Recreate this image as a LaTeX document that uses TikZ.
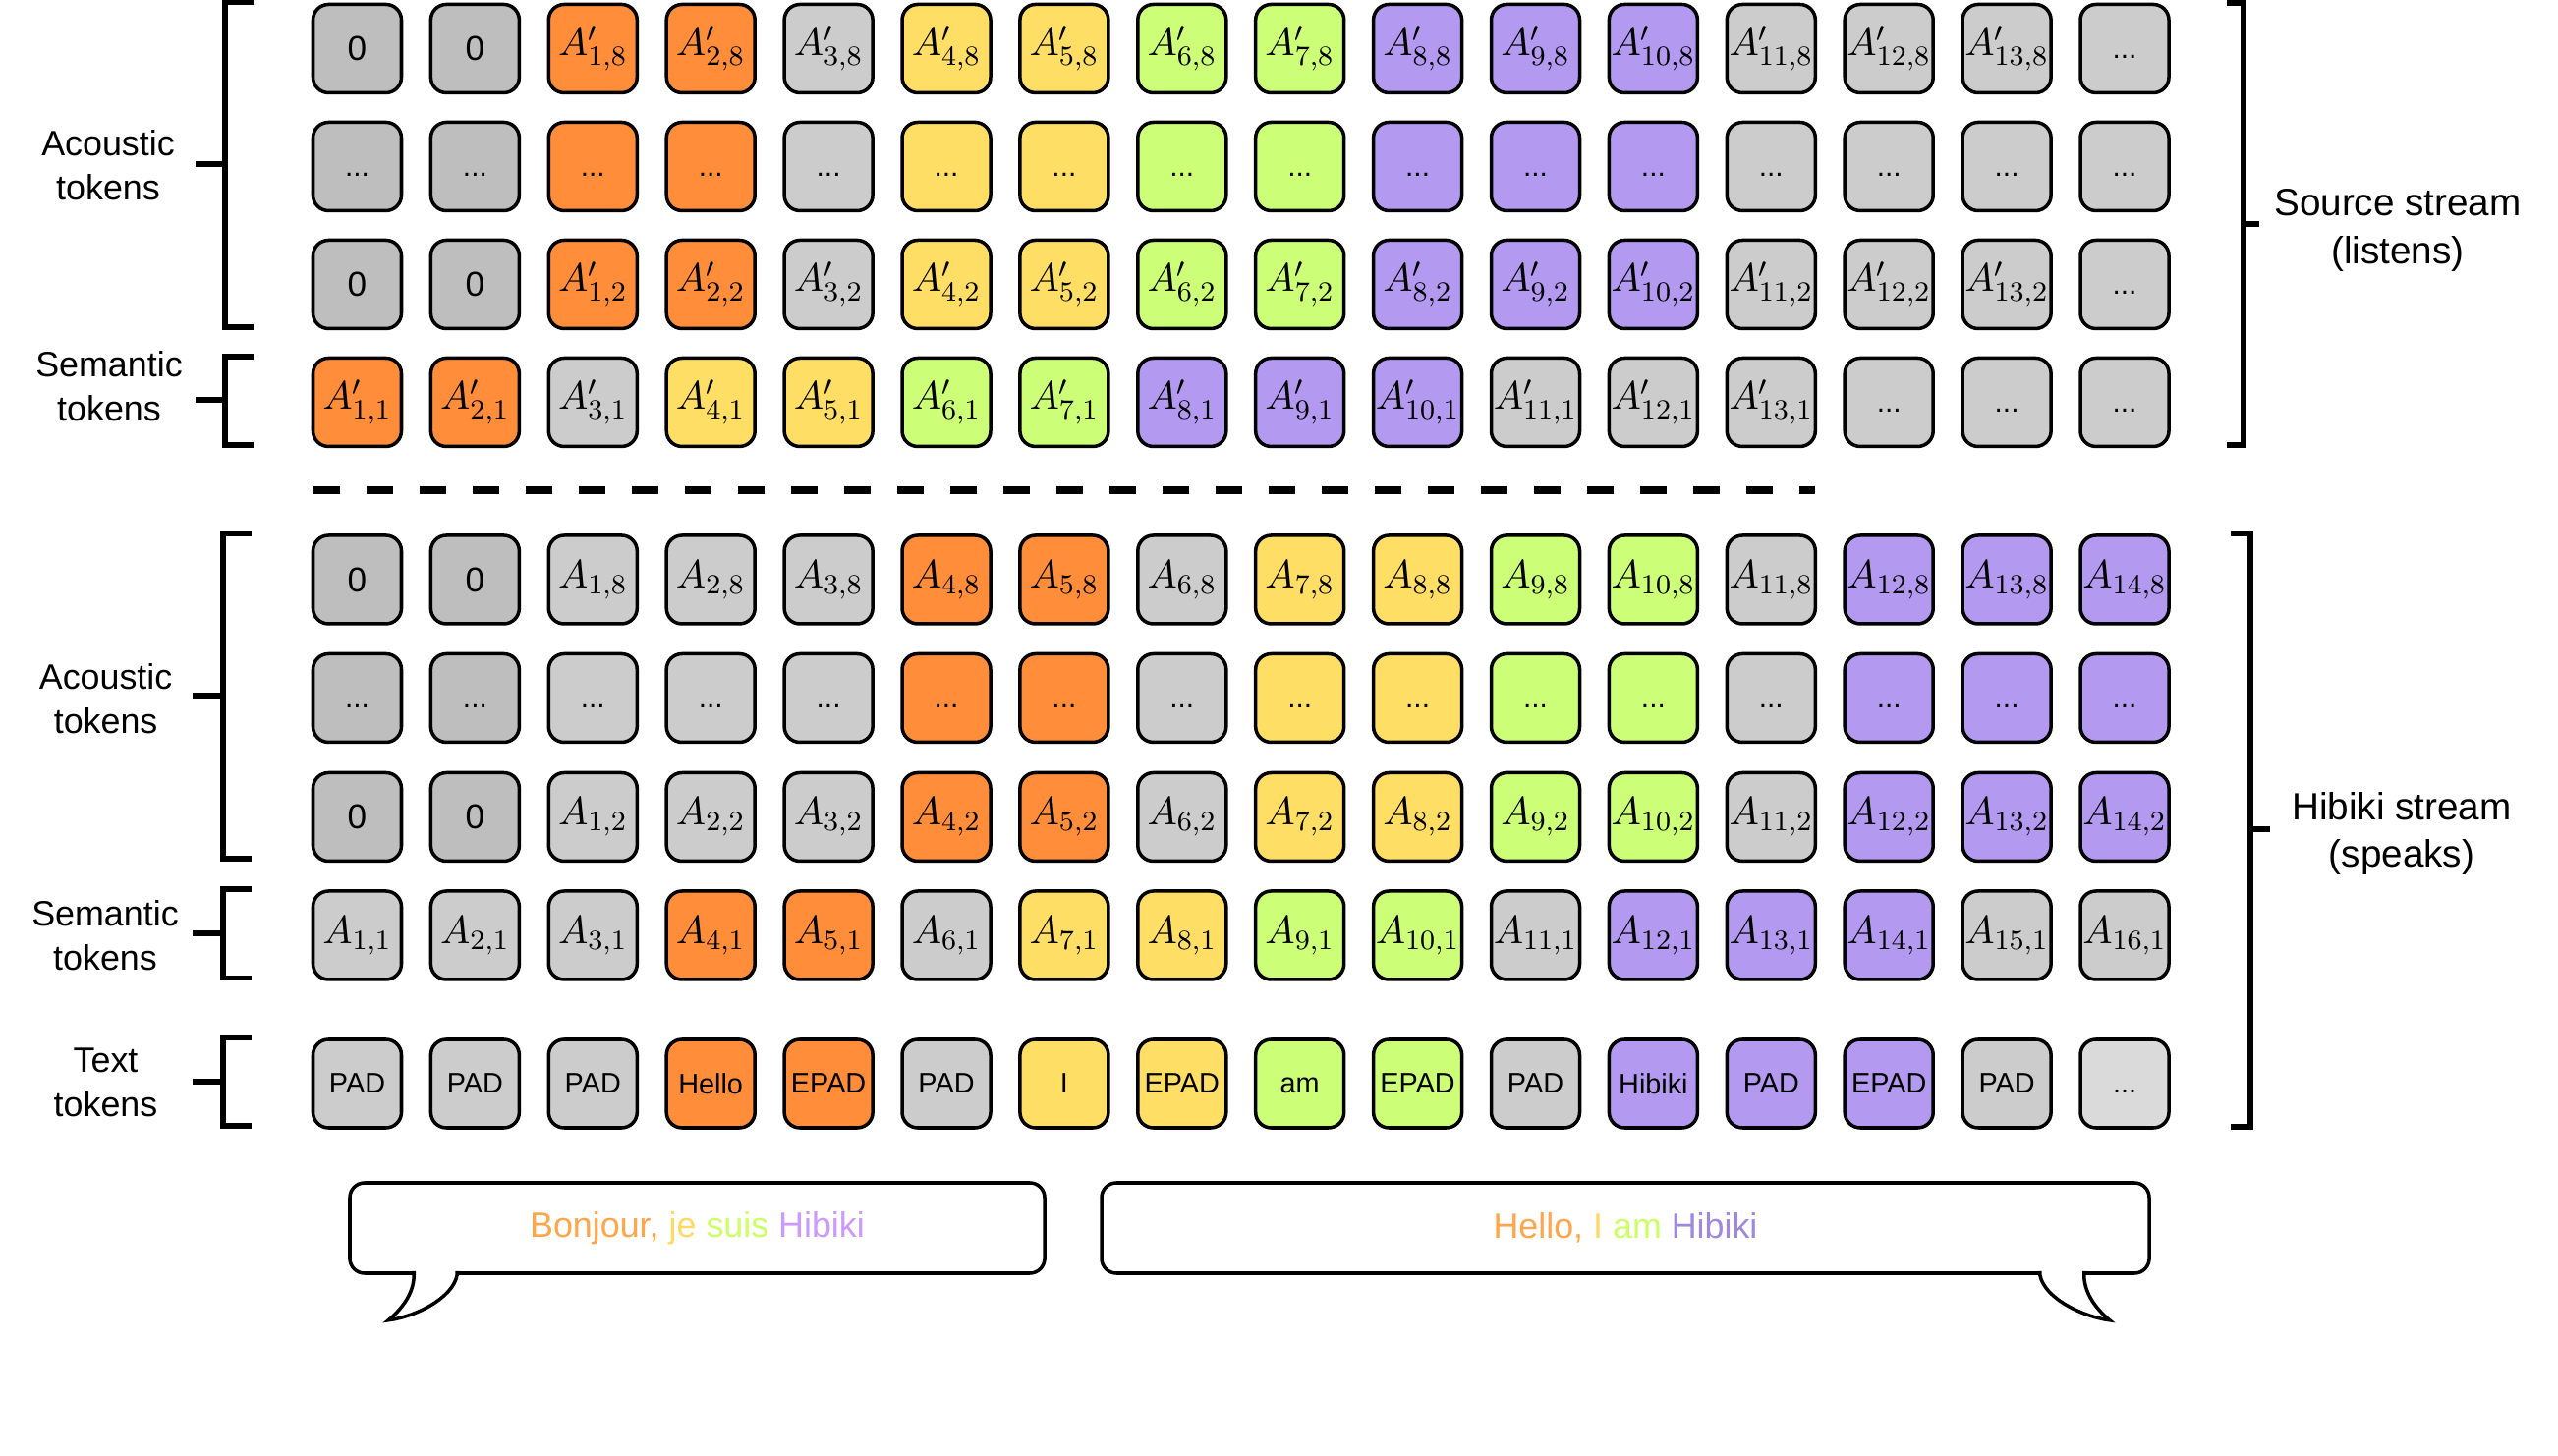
\documentclass[tikz,border=0pt]{standalone}
\usepackage{fix-cm}
\usepackage[no-math]{fontspec}
\newfontfamily\arialfont{Liberation Sans}
\usetikzlibrary{calc}

\definecolor{tokorange}{HTML}{FF8D3A}
\definecolor{tokyellow}{HTML}{FFDE66}
\definecolor{tokgreen}{HTML}{CCFF77}
\definecolor{tokpurple}{HTML}{B399F0}
\definecolor{tokgray}{HTML}{CCCCCC}
\definecolor{tokdark}{HTML}{BEBEBE}
\definecolor{toklight}{HTML}{DADADA}
\definecolor{sayorange}{HTML}{FFA54A}
\definecolor{sayyellow}{HTML}{FFD966}
\definecolor{saygreen}{HTML}{CCFF66}
\definecolor{saylilac}{HTML}{CC99FF}
\definecolor{saypurple}{HTML}{A088DE}

\newcommand{\tokword}[1]{{\arialfont\fontsize{8.2}{10}\selectfont\vphantom{P}#1}}
\newcommand{\tokzero}{{\arialfont\fontsize{10}{12}\selectfont 0}}
\newcommand{\threedots}{...}
\newcommand{\tokdots}{{\arialfont\fontsize{8.5}{10}\selectfont\vphantom{P}\threedots}}

\begin{document}
\begin{tikzpicture}[
	tok/.style={draw, line width=1pt, rounded corners=4.5pt, minimum size=0.9cm, inner sep=0pt, font=\fontsize{11.5}{13}\selectfont},
	lab/.style={align=center, font=\arialfont\fontsize{10.2}{12.8}\selectfont},
	side/.style={align=center, font=\arialfont\fontsize{11}{13.9}\selectfont},
	brk/.style={line width=1.7pt},
	bubble/.style={draw, line width=1pt, fill=white, rounded corners=0.15cm, inner sep=0pt, minimum height=0.92cm, font=\arialfont\fontsize{10.2}{12}\selectfont},
	tail/.style={draw, line width=1pt, fill=white}]

	\useasboundingbox (0,0) rectangle (26.03,-14.82);

	% source stream (listens)
	\foreach \col [count=\i] in {tokdark,tokdark,tokorange,tokorange,tokgray,tokyellow,tokyellow,tokgreen,tokgreen,tokpurple,tokpurple,tokpurple,tokgray,tokgray,tokgray,tokgray} {
		\pgfmathsetmacro\x{3.635+(\i-1)*1.199}
		\pgfmathtruncatemacro\kk{\i-2}
		\ifnum\i<3
			\node[tok, fill=\col] (s8-\i) at (\x,-0.495) {\tokzero};
			\node[tok, fill=\col] (s2-\i) at (\x,-2.895) {\tokzero};
		\else\ifnum\i=16
			\node[tok, fill=\col] (s8-\i) at (\x,-0.495) {\tokdots};
			\node[tok, fill=\col] (s2-\i) at (\x,-2.895) {\tokdots};
		\else
			\node[tok, fill=\col] (s8-\i) at (\x,-0.495) {$A'_{\kk,8}$};
			\node[tok, fill=\col] (s2-\i) at (\x,-2.895) {$A'_{\kk,2}$};
		\fi\fi
		\node[tok, fill=\col] (sd-\i) at (\x,-1.695) {\tokdots};
	}
	\foreach \col [count=\i] in {tokorange,tokorange,tokgray,tokyellow,tokyellow,tokgreen,tokgreen,tokpurple,tokpurple,tokpurple,tokgray,tokgray,tokgray,tokgray,tokgray,tokgray} {
		\pgfmathsetmacro\x{3.635+(\i-1)*1.199}
		\ifnum\i<14
			\node[tok, fill=\col] (s1-\i) at (\x,-4.095) {$A'_{\i,1}$};
		\else
			\node[tok, fill=\col] (s1-\i) at (\x,-4.095) {\tokdots};
		\fi
	}

	\draw[line width=0.08cm, dash pattern=on 0.27cm off 0.27cm] (3.185,-4.995) -- (18.47,-4.995);

	% hibiki stream (speaks)
	\foreach \col [count=\i] in {tokdark,tokdark,tokgray,tokgray,tokgray,tokorange,tokorange,tokgray,tokyellow,tokyellow,tokgreen,tokgreen,tokgray,tokpurple,tokpurple,tokpurple} {
		\pgfmathsetmacro\x{3.635+(\i-1)*1.199}
		\pgfmathtruncatemacro\kk{\i-2}
		\ifnum\i<3
			\node[tok, fill=\col] (h8-\i) at (\x,-5.90) {\tokzero};
			\node[tok, fill=\col] (h2-\i) at (\x,-8.315) {\tokzero};
		\else
			\node[tok, fill=\col] (h8-\i) at (\x,-5.90) {$A_{\kk,8}$};
			\node[tok, fill=\col] (h2-\i) at (\x,-8.315) {$A_{\kk,2}$};
		\fi
		\node[tok, fill=\col] (hd-\i) at (\x,-7.105) {\tokdots};
	}
	\foreach \col [count=\i] in {tokgray,tokgray,tokgray,tokorange,tokorange,tokgray,tokyellow,tokyellow,tokgreen,tokgreen,tokgray,tokpurple,tokpurple,tokpurple,tokgray,tokgray}
		\node[tok, fill=\col] (h1-\i) at ({3.635+(\i-1)*1.199},-9.52) {$A_{\i,1}$};
	\foreach \col/\w [count=\i] in {tokgray/PAD,tokgray/PAD,tokgray/PAD,tokorange/Hello,tokorange/EPAD,tokgray/PAD,tokyellow/I,tokyellow/EPAD,tokgreen/am,tokgreen/EPAD,tokgray/PAD,tokpurple/Hibiki,tokpurple/PAD,tokpurple/EPAD,tokgray/PAD,toklight/\threedots}
		\node[tok, fill=\col] (t-\i) at ({3.635+(\i-1)*1.199},-11.03) {\tokword{\w}};

	% left brackets
	\draw[brk] (2.58,-0.025) -- (2.29,-0.025) -- (2.29,-3.33) -- (2.58,-3.33);
	\draw[brk] (1.99,-1.67) -- (2.29,-1.67);
	\draw[brk] (2.58,-3.635) -- (2.29,-3.635) -- (2.29,-4.53) -- (2.58,-4.53);
	\draw[brk] (1.99,-4.07) -- (2.29,-4.07);
	\draw[brk] (2.56,-5.43) -- (2.27,-5.43) -- (2.27,-8.74) -- (2.56,-8.74);
	\draw[brk] (1.96,-7.08) -- (2.27,-7.08);
	\draw[brk] (2.56,-9.05) -- (2.27,-9.05) -- (2.27,-9.955) -- (2.56,-9.955);
	\draw[brk] (1.96,-9.50) -- (2.27,-9.50);
	\draw[brk] (2.56,-10.56) -- (2.27,-10.56) -- (2.27,-11.46) -- (2.56,-11.46);
	\draw[brk] (1.96,-11.01) -- (2.27,-11.01);

	\node[lab] (lab-sa) at (1.10,-1.68) {Acoustic\\tokens};
	\node[lab] (lab-ss) at (1.11,-3.935) {Semantic\\tokens};
	\node[lab] (lab-ha) at (1.076,-7.11) {Acoustic\\tokens};
	\node[lab] (lab-hs) at (1.07,-9.52) {Semantic\\tokens};
	\node[lab] (lab-ht) at (1.075,-11.02) {Text\\tokens};

	% right brackets
	\draw[brk] (22.66,-0.03) -- (22.83,-0.03) -- (22.83,-4.53) -- (22.66,-4.53);
	\draw[brk] (22.83,-2.28) -- (22.99,-2.28);
	\draw[brk] (22.70,-5.43) -- (22.90,-5.43) -- (22.90,-11.47) -- (22.70,-11.47);
	\draw[brk] (22.90,-8.44) -- (23.10,-8.44);

	\node[side] (lab-src) at (24.40,-2.345) {Source stream\\(listens)};
	\node[side] (lab-hib) at (24.44,-8.485) {Hibiki stream\\(speaks)};

	% speech bubbles
	\node[bubble, minimum width=7.07cm] (say-fr) at (7.095,-12.50)
		{{\color{sayorange}Bonjour,} {\color{sayyellow}je} {\color{saygreen}suis} {\color{saylilac}Hibiki}};
	\node[bubble, minimum width=10.66cm] (say-en) at (16.54,-12.50)
		{{\color{sayorange}Hello,} {\color{sayyellow}I} {\color{saygreen}am} {\color{saypurple}Hibiki}};

	\coordinate (fr-a) at ($(say-fr.south west)+(0.67,0)$);
	\coordinate (fr-b) at ($(say-fr.south west)+(1.11,0)$);
	\coordinate (fr-tip) at ($(say-fr.south west)+(0.41,-0.46)$);
	\path[tail] ($(fr-a)+(0,0.04)$) -- (fr-a) .. controls +(0,-0.2) and +(0.12,0.1) .. (fr-tip)
		.. controls +(0.25,0.03) and +(-0.05,-0.25) .. (fr-b) -- ($(fr-b)+(0,0.04)$);

	\coordinate (en-a) at ($(say-en.south east)+(-1.13,0)$);
	\coordinate (en-b) at ($(say-en.south east)+(-0.68,0)$);
	\coordinate (en-tip) at ($(say-en.south east)+(-0.42,-0.46)$);
	\path[tail] ($(en-a)+(0,0.04)$) -- (en-a) .. controls +(0.05,-0.25) and +(-0.25,0.03) .. (en-tip)
		.. controls +(-0.12,0.1) and +(0,-0.2) .. (en-b) -- ($(en-b)+(0,0.04)$);

\end{tikzpicture}
\end{document}
